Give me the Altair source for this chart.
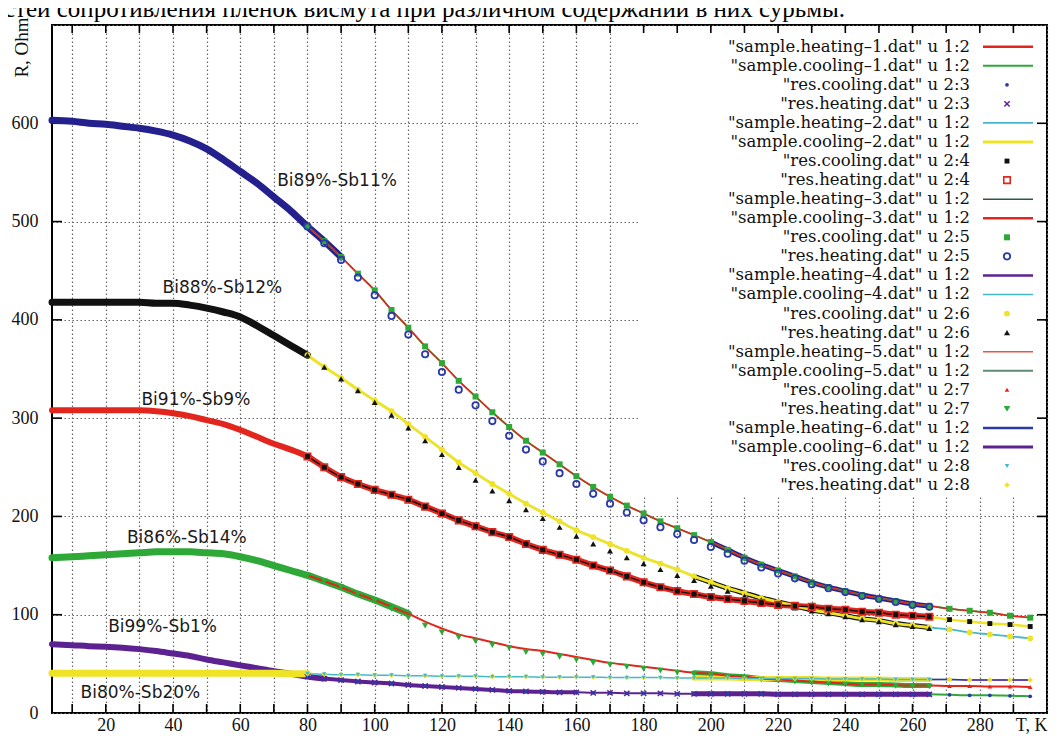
import altair as alt
import pandas as pd

CAPTION = "стей сопротивления пленок висмута при различном содержании в них сурьмы."

# temperature grids (K)
T_LOW = [4, 10, 15, 20, 25, 30, 35, 40, 45, 50, 55, 60, 65, 70, 75, 80]
T_RES = [80, 85, 90, 95, 100, 105, 110, 115, 120, 125, 130, 135, 140, 145, 150, 155, 160, 165, 170,
         175, 180, 185, 190, 195, 200, 205, 210, 215, 220, 225, 230, 235, 240, 245, 250, 255, 260, 265]
T_TAIL = [265, 271, 277, 283, 289, 295]

# Bi89%-Sb11%
A_LOW = [603, 602, 600, 599, 597, 595, 592, 588, 582, 574, 563, 551, 539, 525, 511, 495]
A_RES = [495, 480, 464, 447, 430, 410, 392, 373, 356, 338, 322, 306, 291, 277, 265, 253, 241, 230, 220,
         211, 203, 195, 188, 181, 174, 166, 158, 151, 145, 139, 133, 128, 124, 120, 117, 114, 111, 109]
A_TAIL = [109, 106, 104, 102, 99, 97]
A_HEAT = [495, 478, 461, 443, 425, 404, 385, 365, 347, 329, 313, 297, 282, 268, 256, 244, 233, 223, 213,
          204, 196, 189, 182, 176, 169, 162, 155, 148, 142, 137, 131, 127, 123, 119, 116, 113, 110, 108]

# Bi88%-Sb12%
B_LOW = [418, 418, 418, 418, 418, 418, 417, 417, 415, 412, 408, 403, 394, 384, 374, 364]
B_RES = [364, 352, 341, 329, 318, 307, 294, 281, 268, 255, 244, 233, 223, 213, 204, 195, 186, 179, 172,
         165, 158, 152, 146, 139, 133, 127, 122, 117, 113, 109, 105, 102, 99, 96, 94, 91, 89, 87]
B_TAIL = [87, 85, 82, 80, 78, 76]
B_HEAT = [364, 352, 340, 328, 316, 303, 290, 277, 263, 250, 237, 226, 216, 207, 198, 189, 180, 172, 165,
          158, 152, 146, 140, 135, 129, 124, 119, 115, 111, 107, 104, 101, 98, 95, 93, 90, 88, 86]

# Bi91%-Sb9%
C_LOW = [308, 308, 308, 308, 308, 308, 307, 305, 302, 298, 294, 288, 281, 274, 268, 261]
C_RES = [261, 250, 240, 233, 227, 222, 217, 210, 203, 196, 190, 184, 179, 172, 166, 161, 156, 150, 145,
         139, 133, 128, 124, 121, 118, 116, 114, 112, 110, 109, 108, 106, 105, 103, 102, 100, 99, 98]
C_TAIL = [98, 95, 93, 91, 90, 88]

# Bi86%-Sb14%
D_LOW = [158, 159, 160, 161, 162, 163, 164, 164, 164, 163, 162, 159, 155, 150, 145, 140]
D_RES = [140, 134, 128, 121, 115, 108, 101, 93, 86, 80, 76, 72, 68, 65, 63, 60, 57, 54, 51,
         49, 47, 45, 43, 41, 40, 38, 37, 35, 34, 33, 32, 31, 30, 29, 29, 28.5, 28, 28]
D_TAIL = [28, 27.5, 27.5, 27, 27, 26.5]
D_HEAT = [140, 134, 128, 121, 114, 106, 97, 89, 82, 77, 73, 69, 66, 62, 60, 57, 54, 51, 49,
          47, 45, 43, 41, 39.5, 38, 36.5, 35.5, 34, 33, 32, 31, 30, 29, 28.5, 28, 27.5, 27, 27]

# Bi99%-Sb1%
E_LOW = [70, 69, 68, 67.5, 66.5, 65, 63, 60.5, 58, 54.5, 51.5, 48.5, 45.5, 42.5, 40, 37]
E_RES = [37, 35, 33.5, 32, 31, 30, 28.5, 27.5, 26.5, 25.5, 24.5, 23.5, 22.5, 22, 21.5, 21, 21, 20.5, 20.5,
         20, 20, 20, 19.5, 19.5, 19.5, 19.5, 19.5, 19.5, 19, 19, 19, 19, 19, 19, 19, 19, 19, 19]
E_TAIL = [19, 18.5, 18, 18, 17.5, 17]

# Bi80%-Sb20%
F_LOW = [40.5, 40.5, 40.5, 40.5, 40.5, 40.5, 40.5, 40.5, 40.5, 40.5, 40.5, 40.5, 40.5, 40.5, 40, 40]
F_RES = [40, 39.5, 39, 39, 38.5, 38.5, 38, 38, 37.5, 37.5, 37.5, 37, 37, 37, 36.5, 36.5, 36.5, 36.5, 36,
         36, 36, 36, 35.5, 35.5, 35.5, 35.5, 35, 35, 35, 35, 35, 34.5, 34.5, 34.5, 34.5, 34, 34, 34]
F_TAIL = [34, 34, 33.5, 33.5, 33.5, 33.5]

ANNOT_TEXT = ["Bi89%-Sb11%", "Bi88%-Sb12%", "Bi91%-Sb9%", "Bi86%-Sb14%", "Bi99%-Sb1%", "Bi80%-Sb20%"]
ANNOT_T = [88.8, 54.7, 46.8, 44.1, 36.9, 30.3]
ANNOT_R = [541, 432, 318, 178, 87, 20.5]

LEG_LABELS = [
    '"sample.heating–1.dat" u 1:2', '"sample.cooling–1.dat" u 1:2',
    '"res.cooling.dat" u 2:3', '"res.heating.dat" u 2:3',
    '"sample.heating–2.dat" u 1:2', '"sample.cooling–2.dat" u 1:2',
    '"res.cooling.dat" u 2:4', '"res.heating.dat" u 2:4',
    '"sample.heating–3.dat" u 1:2', '"sample.cooling–3.dat" u 1:2',
    '"res.cooling.dat" u 2:5', '"res.heating.dat" u 2:5',
    '"sample.heating–4.dat" u 1:2', '"sample.cooling–4.dat" u 1:2',
    '"res.cooling.dat" u 2:6', '"res.heating.dat" u 2:6',
    '"sample.heating–5.dat" u 1:2', '"sample.cooling–5.dat" u 1:2',
    '"res.cooling.dat" u 2:7', '"res.heating.dat" u 2:7',
    '"sample.heating–6.dat" u 1:2', '"sample.cooling–6.dat" u 1:2',
    '"res.cooling.dat" u 2:8', '"res.heating.dat" u 2:8',
]
LEG_KEYS = ["h1", "c1", "p3c", "p3h", "h2", "c2", "p4c", "p4h", "h3", "c3", "p5c", "p5h",
            "h4", "c4", "p6c", "p6h", "h5", "c5", "p7c", "p7h", "h6", "c6", "p8c", "p8h"]

X_TICKS = list(range(10, 300, 10))
Y_TICKS = [100, 200, 300, 400, 500, 600]

# ---------------- styles ----------------
SERIF = "Liberation Serif"
KEYFONT = "DejaVu Serif"
SANS = "DejaVu Sans"
RED = "#e3261d"
RED2 = "#ee5346"
GREEN = "#2ea836"
NAVY = "#24218e"
BLUE = "#2a3aa8"
PURPLE = "#5c2291"
YELLOW = "#efe326"
CYAN = "#44b9cd"
BLACK = "#111111"
DKGREEN = "#2d5a3c"
GREYGREEN = "#5e8c74"
XPATH = "M-1,-1L1,1M-1,1L1,-1"

LINES = {
    "h1": (RED, 2.5), "c1": (GREEN, 1.8), "h2": (CYAN, 1.8), "c2": (YELLOW, 3),
    "h3": (DKGREEN, 1.5), "c3": (RED, 2.5), "h4": (PURPLE, 2.5), "c4": (CYAN, 1.5),
    "h5": (RED2, 1.5), "c5": (GREYGREEN, 2.2), "h6": (BLUE, 2.5), "c6": (PURPLE, 3),
}
MARKS = {
    "p3c": dict(shape="circle", filled=True, color=BLUE, size=14),
    "p3h": dict(shape=XPATH, filled=False, color=PURPLE, size=28, strokeWidth=1.5),
    "p4c": dict(shape="square", filled=True, color=BLACK, size=24),
    "p4h": dict(shape="square", filled=False, color=RED, size=42, strokeWidth=1.6),
    "p5c": dict(shape="square", filled=True, color=GREEN, size=36),
    "p5h": dict(shape="circle", filled=False, color=BLUE, size=40, strokeWidth=1.8),
    "p6c": dict(shape="circle", filled=True, color=YELLOW, size=34),
    "p6h": dict(shape="triangle-up", filled=True, color=BLACK, size=36),
    "p7c": dict(shape="triangle-up", filled=True, color=RED, size=22),
    "p7h": dict(shape="triangle-down", filled=True, color=GREEN, size=44),
    "p8c": dict(shape="triangle-down", filled=True, color=CYAN, size=20),
    "p8h": dict(shape="diamond", filled=True, color=YELLOW, size=30),
}

W, H = 995, 688

X_AXIS = alt.Axis(values=X_TICKS + [300],
                  labelExpr="datum.value == 300 ? 'T, K' : (datum.value % 20 == 0 ? datum.label : '')",
                  grid=True, gridDash=[1.5, 2.5], gridColor="#666666", gridWidth=1.2,
                  ticks=False, tickSize=0, domain=False, labelFont=SERIF, labelFontSize=18,
                  labelColor="#111111", labelPadding=3, labelOverlap=False, labelFlush=True, title="")
Y_AXIS = alt.Axis(values=[0] + Y_TICKS + [700],
                  labelExpr="datum.value == 700 ? '' : datum.label",
                  grid=True, gridDash=[1.5, 2.5], gridColor="#666666", gridWidth=1.2,
                  ticks=False, tickSize=0, domain=False, labelFont=SERIF, labelFontSize=18,
                  labelColor="#111111", labelPadding=14, labelOverlap=False,
                  title="R, Ohm", titleFont=SERIF, titleFontSize=19, titleFontWeight="normal",
                  titleColor="#111111", titleAngle=270, titleX=-31, titleY=22,
                  titleAlign="center", titleBaseline="middle")
X_ENC = alt.X("T:Q", scale=alt.Scale(domain=[4, 300], nice=False, zero=False), axis=X_AXIS)
Y_ENC = alt.Y("R:Q", scale=alt.Scale(domain=[0, 700], nice=False), axis=Y_AXIS)


def full(low, res, tail):
    return pd.DataFrame({"T": T_LOW + T_RES[1:] + T_TAIL[1:], "R": low + res[1:] + tail[1:]})


def part(df, lo, hi):
    return df[(df["T"] >= lo) & (df["T"] <= hi)]


A = full(A_LOW, A_RES, A_TAIL)
B = full(B_LOW, B_RES, B_TAIL)
C = full(C_LOW, C_RES, C_TAIL)
D = full(D_LOW, D_RES, D_TAIL)
E = full(E_LOW, E_RES, E_TAIL)
F = full(F_LOW, F_RES, F_TAIL)


def line(df, color, width):
    return alt.Chart(df).mark_line(color=color, strokeWidth=width, interpolate="monotone",
                                   strokeCap="round", strokeJoin="round").encode(x=X_ENC, y=Y_ENC)


def points(df, key):
    s = dict(MARKS[key])
    sw = s.pop("strokeWidth", 1)
    return alt.Chart(df).mark_point(opacity=1, strokeWidth=sw, **s).encode(x=X_ENC, y=Y_ENC)


layers = []
# white key box hides the grid
layers.append(alt.Chart(pd.DataFrame({"k": [0]})).mark_rect(color="white").encode(
    x=alt.value(586), x2=alt.value(993), y=alt.value(2), y2=alt.value(470)))

# inward ticks on all four sides
tx = pd.DataFrame({"T": X_TICKS})
ty = pd.DataFrame({"R": Y_TICKS})
layers.append(alt.Chart(tx).mark_rule(color="black", strokeWidth=1.6).encode(
    x=X_ENC, y=alt.value(H), y2=alt.value(H - 9)))
layers.append(alt.Chart(tx).mark_rule(color="black", strokeWidth=1.6).encode(
    x=X_ENC, y=alt.value(0), y2=alt.value(8)))
layers.append(alt.Chart(ty).mark_rule(color="black", strokeWidth=1.6).encode(
    y=Y_ENC, x=alt.value(0), x2=alt.value(10)))
layers.append(alt.Chart(ty).mark_rule(color="black", strokeWidth=1.6).encode(
    y=Y_ENC, x=alt.value(W), x2=alt.value(W - 10)))

# dense sample bands
for df, lo, hi, col, w in [
    (A, 4, 90, NAVY, 7), (A, 200, 265, NAVY, 5),
    (B, 4, 80, BLACK, 7), (B, 195, 265, BLACK, 5),
    (C, 4, 265, RED, 6),
    (D, 4, 110, GREEN, 7), (D, 195, 265, GREEN, 5),
    (E, 4, 85, PURPLE, 6), (E, 85, 160, PURPLE, 4), (E, 195, 265, PURPLE, 5),
    (F, 4, 80, YELLOW, 7), (F, 195, 265, YELLOW, 5),
]:
    layers.append(line(part(df, lo, hi), col, w))

# thin sample lines
for df, lo, hi, col, w in [
    (A, 80, 295, GREEN, 1.8), (A, 80, 295, RED, 1.5),
    (B, 80, 295, CYAN, 1.8), (B, 80, 265, YELLOW, 2.8),
    (C, 80, 265, BLACK, 1.5), (C, 265, 295, YELLOW, 2.5),
    (D, 80, 295, RED, 2),
    (E, 80, 265, PURPLE, 2), (E, 265, 295, GREEN, 2),
    (F, 80, 295, CYAN, 1.5), (F, 265, 295, PURPLE, 1.5),
]:
    layers.append(line(part(df, lo, hi), col, w))

# res.* markers
layers.append(points(part(A, 80, 295), "p5c"))
layers.append(points(pd.DataFrame({"T": T_RES, "R": A_HEAT}), "p5h"))
layers.append(points(part(B, 80, 295), "p6c"))
layers.append(points(pd.DataFrame({"T": T_RES, "R": B_HEAT}), "p6h"))
layers.append(points(part(C, 80, 265), "p4h"))
layers.append(points(part(C, 80, 295), "p4c"))
layers.append(points(pd.DataFrame({"T": T_RES, "R": D_HEAT}), "p7h"))
layers.append(points(part(D, 266, 295), "p7c"))
layers.append(points(part(E, 80, 265), "p3h"))
layers.append(points(part(E, 80, 295), "p3c"))
layers.append(points(part(F, 80, 295), "p8h"))
layers.append(points(part(F, 80, 265), "p8c"))

# sample annotations
layers.append(alt.Chart(pd.DataFrame({"T": ANNOT_T, "R": ANNOT_R, "label": ANNOT_TEXT})).mark_text(
    font=SANS, fontSize=17, color="#1a1a1a", align="center", baseline="middle").encode(
    x=X_ENC, y=Y_ENC, text="label:N"))

# page caption above the plot (cut by the top edge, as in the scan)
layers.append(alt.Chart(pd.DataFrame({"t": [CAPTION]})).mark_text(
    font=SERIF, fontSize=25, color="black", align="right", baseline="alphabetic").encode(
    x=alt.value(793), y=alt.value(-8), text="t:N"))

main = alt.layer(*layers)

# key
LEG_Y = alt.Scale(domain=[0, 23], range=[21.7, 460.1])
leg_df = pd.DataFrame({"idx": list(range(len(LEG_LABELS))), "label": LEG_LABELS, "key": LEG_KEYS})
leg_layers = [alt.Chart(leg_df).mark_text(font=KEYFONT, fontSize=16.5, color="#111111", align="right",
                                          baseline="middle").encode(
    x=alt.value(918), y=alt.Y("idx:Q", scale=LEG_Y, axis=None), text="label:N")]
for i, key in enumerate(LEG_KEYS):
    row = pd.DataFrame({"idx": [i]})
    if key in LINES:
        col, w = LINES[key]
        leg_layers.append(alt.Chart(row).mark_rule(color=col, strokeWidth=w).encode(
            x=alt.value(931), x2=alt.value(981), y=alt.Y("idx:Q", scale=LEG_Y, axis=None)))
    else:
        s = dict(MARKS[key])
        sw = s.pop("strokeWidth", 1)
        leg_layers.append(alt.Chart(row).mark_point(opacity=1, strokeWidth=sw, **s).encode(
            x=alt.value(955), y=alt.Y("idx:Q", scale=LEG_Y, axis=None)))
legend = alt.layer(*leg_layers)

chart = alt.layer(main, legend).resolve_scale(y="independent").properties(
    width=W, height=H,
    padding={"left": 44, "top": 17, "right": 5, "bottom": 30},
    autosize=alt.AutoSizeParams(type="none"),
    background="white",
).configure_view(stroke="black", strokeWidth=2)

chart.save("out.html", embed_options={"renderer": "svg", "actions": False})
